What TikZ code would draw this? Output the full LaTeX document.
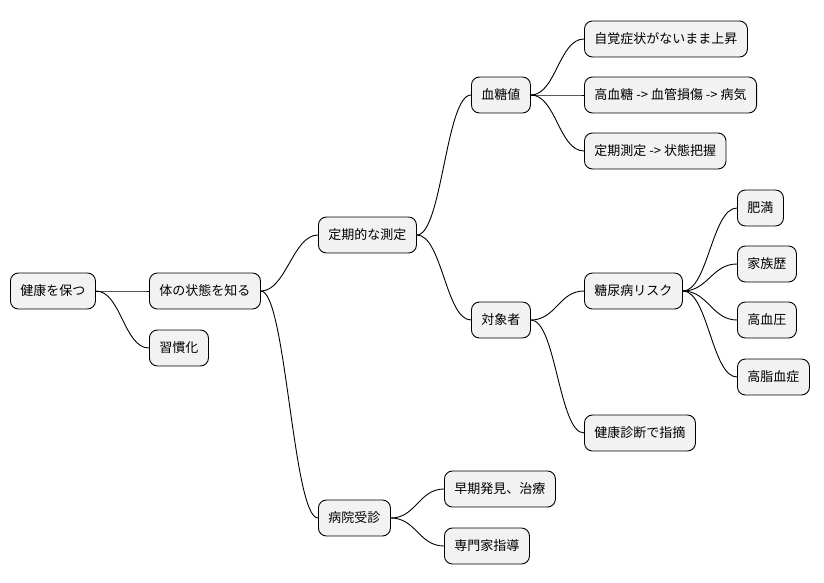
\documentclass[tikz,border=0pt]{standalone}
\usepackage{fontspec}
\setmainfont{Noto Sans CJK JP}
\begin{document}
\begin{tikzpicture}[x=1pt,y=-1pt,
  mm/.style={draw=black,fill=black!5,rounded corners=8pt,minimum height=36pt,inner xsep=10pt,anchor=west,font=\fontsize{13}{15}\selectfont,line width=0.9pt},
  ln/.style={line width=0.9pt}]
\useasboundingbox (0,0) rectangle (824,583);
\node[mm] (r) at (10,291) {健康を保つ};
\node[mm] (a) at (149,291) {体の状態を知る};
\node[mm] (b) at (149,348) {習慣化};
\node[mm] (c) at (318,235) {定期的な測定};
\node[mm] (d) at (318,518) {病院受診};
\node[mm] (e) at (471,95) {血糖値};
\node[mm] (f) at (471,320) {対象者};
\node[mm] (g) at (584,39) {自覚症状がないまま上昇};
\node[mm] (h) at (584,95) {高血糖 -> 血管損傷 -> 病気};
\node[mm] (i) at (584,151) {定期測定 -> 状態把握};
\node[mm] (j) at (584,291) {糖尿病リスク};
\node[mm] (k) at (584,433) {健康診断で指摘};
\node[mm] (l) at (737,208) {肥満};
\node[mm] (m) at (737,264) {家族歴};
\node[mm] (n) at (737,320) {高血圧};
\node[mm] (o) at (737,377) {高脂血症};
\node[mm] (p) at (444,489) {早期発見、治療};
\node[mm] (q) at (444,546) {専門家指導};
\foreach \s/\t in {r/a,r/b,a/c,a/d,c/e,c/f,e/g,e/h,e/i,f/j,f/k,j/l,j/m,j/n,j/o,d/p,d/q}
  \draw[ln] (\s.east) .. controls ([xshift=25pt]\s.east) and ([xshift=-25pt]\t.west) .. (\t.west);
\end{tikzpicture}
\end{document}
